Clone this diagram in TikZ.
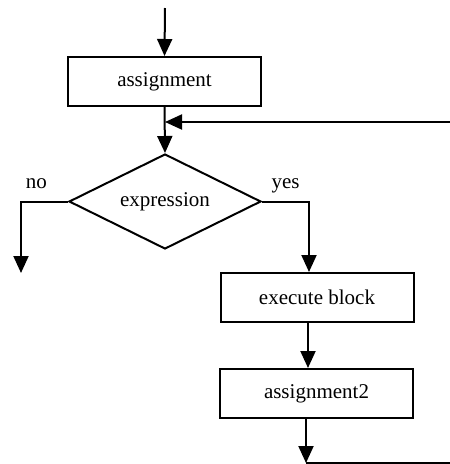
\documentclass[tikz,border=0pt]{standalone}
\usepackage{fontspec}
\setmainfont{Liberation Serif}
\usetikzlibrary{shapes.geometric,arrows.meta}
\begin{document}
\begin{tikzpicture}[x=1pt,y=-1pt,
  every node/.style={font=\fontsize{21}{25}\selectfont},
  box/.style={draw,line width=2pt,minimum width=193pt,minimum height=49pt,inner sep=0pt},
  dec/.style={draw,diamond,line width=2pt,minimum width=192pt,minimum height=95pt,inner sep=0pt,aspect=2},
  flow/.style={line width=2pt,-{Triangle[length=17pt,width=15pt]}},
  plain/.style={line width=2pt},
  lbl/.style={anchor=base,inner sep=0pt}]
\useasboundingbox (0,0) rectangle (450,464);
\node[box] (assign) at (164.5,81.5) {assignment};
\node[dec] (cond) at (165,201.5) {expression};
\node[box] (exec) at (317,297.5) {execute block};
\node[box] (assign2) at (316.5,393.5) {assignment2};
\node[lbl] (no) at (36.5,188) {no};
\node[lbl] (yes) at (285.5,188) {yes};
\coordinate (start) at (165,8);
\coordinate (loopfrom) at (450,122);
\coordinate (loopin) at (165,122);
\coordinate (noend) at (21,273);
\coordinate (endpt) at (306,463);
\coordinate (endright) at (450,463);
\draw[flow] (start) -- (assign.north);
\draw[flow] (assign.south) -- (cond.north);
\draw[flow] (loopfrom) -- (loopin);
\draw[flow] (cond.west) -| (noend);
\draw[flow] (cond.east) -| ([xshift=-8pt]exec.north);
\draw[flow] ([xshift=-9pt]exec.south) -- ([xshift=-8.5pt]assign2.north);
\draw[flow] ([xshift=-10.5pt]assign2.south) -- (endpt);
\draw[plain] (endpt) -- (endright);
\end{tikzpicture}
\end{document}
